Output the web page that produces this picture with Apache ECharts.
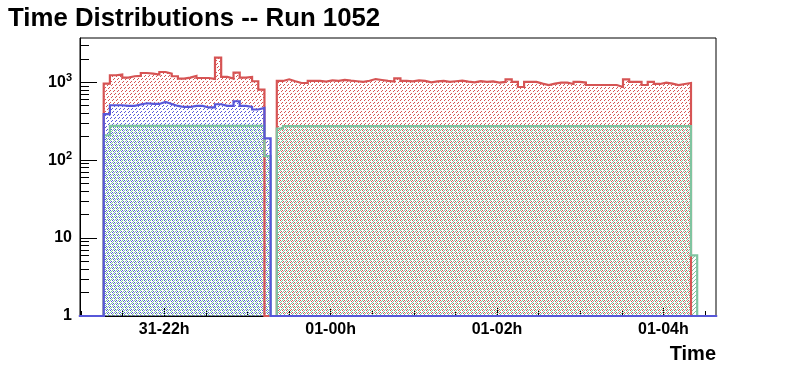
<!DOCTYPE html>
<html><head><meta charset="utf-8">
<script src="https://cdn.jsdelivr.net/npm/echarts@6/dist/echarts.min.js"></script>
<style>html,body{margin:0;padding:0;background:#fff}#c{width:796px;height:372px}</style>
</head><body><div id="c"></div>
<script>
// ---- data ----
const chartTitle = 'Time Distributions -- Run 1052';
const xName = 'Time';
const xTickValues = [22, 24, 26, 28];
const xTickLabels = ['31-22h', '01-00h', '01-02h', '01-04h'];
const xMinorTicks = [21, 21.5, 22.5, 23, 23.5, 24.5, 25, 25.5, 26.5, 27, 27.5, 28.5];
const yMajorTicks = [1, 10, 100, 1000];
const yMinorTicks = [2,3,4,5,6,7,8,9,20,30,40,50,60,70,80,90,200,300,400,500,600,700,800,900,2000,3000];
const xMin = 20.988, xMax = 28.632;   // hours since 31-00h
const yMin = 1, yMax = 3700;
const binLow = 21.273;                 // first bin lower edge (hours)
const binWidth = 0.0743;               // bin width (hours)

const redCounts = [962,1230,1256,1148,1194,1205,1316,1290,1256,1355,
  1290,1194,1115,1148,1205,1135,1135,1103,2074,1170,
  1115,1330,1148,1170,1030,806,0,0,1039,1092,
  1030,979,979,1039,1039,1020,1060,1040,1075,1050,
  1030,1010,1045,1100,1070,1040,1020,1120,1045,1030,
  1060,1040,1000,1025,1040,1010,1030,1050,1020,1000,
  1035,1010,1025,990,1009,1092,1009,870,1009,1009,
  962,922,962,991,991,951,1009,991,922,922,
  922,922,922,870,1092,1009,1009,922,1009,951,
  991,962,922,951,979];
const blueCounts = [389,507,507,497,497,518,538,527,527,559,
  527,497,482,482,497,497,475,475,522,497,
  497,571,497,482,447,469,190];
const greenCounts = [209,275,275,275,275,275,275,275,275,275,
  275,275,275,275,275,275,275,275,275,275,
  275,275,275,275,275,275,113,0,255,273,
  273,273,273,273,273,273,273,273,273,273,
  273,273,273,273,273,273,273,273,273,273,
  273,273,273,273,273,273,273,273,273,273,
  273,273,273,273,273,273,273,273,273,273,
  273,273,273,273,273,273,273,273,273,273,
  273,273,273,273,273,273,273,273,273,273,
  273,273,273,273,273,6];

// ---- styles ----
const RED = '#d65454', BLUE = '#5757d9', GREEN = '#7fc4a0';
const FONT = '"Liberation Sans", Arial, Helvetica, sans-serif';

function makePattern(color, w, h, test) {
  const c = document.createElement('canvas');
  c.width = w; c.height = h;
  const ctx = c.getContext('2d');
  ctx.fillStyle = color;
  for (let y = 0; y < h; y++) for (let x = 0; x < w; x++) if (test(x, y)) ctx.fillRect(x, y, 1, 1);
  return { image: c, repeat: 'repeat' };
}
const hatch = (x, y) => (x + y) % 4 === 0 && y % 3 !== 2;
const redPat = makePattern(RED, 4, 12, hatch);
const bluePat = makePattern(BLUE, 4, 12, hatch);
const greenPat = makePattern(GREEN, 4, 4, (x, y) => (x + y) % 4 === 2);

function stepPoints(counts) {
  const pts = [[xMin, yMin]];
  let prev = yMin;
  counts.forEach((c, i) => {
    const v = c > 0 ? c : yMin;
    const x0 = binLow + i * binWidth;
    pts.push([x0, prev]);
    pts.push([x0, v]);
    prev = v;
  });
  const xe = binLow + counts.length * binWidth;
  pts.push([xe, prev]); pts.push([xe, yMin]); pts.push([xMax, yMin]);
  return pts;
}
function histSeries(counts, color, pat) {
  return {
    type: 'line', data: stepPoints(counts), showSymbol: false, symbol: 'none',
    clip: false, silent: true, animation: false,
    lineStyle: { color: color, width: 2.2, join: 'miter', cap: 'square' },
    areaStyle: { color: pat, opacity: 1, origin: 'start' }
  };
}

const chart = echarts.init(document.getElementById('c'), null, { renderer: 'canvas' });
chart.setOption({
  animation: false,
  backgroundColor: '#fff',
  title: [
    { text: chartTitle, left: 8, top: 6, padding: 0,
      textStyle: { fontSize: 25.8, fontWeight: 'bold', fontFamily: FONT, color: '#000' } },
    { text: xName, right: 80, top: 344, padding: 0,
      textStyle: { fontSize: 20, fontWeight: 'bold', fontFamily: FONT, color: '#000' } }
  ],
  grid: { left: 80, right: 80, top: 38, bottom: 56, show: true, borderColor: '#000', borderWidth: 1,
          backgroundColor: 'transparent', outerBoundsMode: 'none' },
  xAxis: [
    { type: 'value', min: xMin, max: xMax, position: 'bottom',
      axisLine: { show: true, lineStyle: { color: '#000', width: 1 } },
      splitLine: { show: false },
      axisTick: { show: true, inside: true, length: 8, customValues: xTickValues, lineStyle: { color: '#000' } },
      axisLabel: { customValues: xTickValues, margin: 6, fontSize: 16, fontWeight: 'bold', fontFamily: FONT, color: '#000',
        formatter: v => { const i = xTickValues.findIndex(t => Math.abs(t - v) < 1e-6); return i >= 0 ? xTickLabels[i] : ''; } } },
    { type: 'value', min: xMin, max: xMax, position: 'bottom',
      axisLine: { show: false }, splitLine: { show: false }, axisLabel: { show: false },
      axisTick: { show: true, inside: true, length: 5, customValues: xMinorTicks, lineStyle: { color: '#000' } } }
  ],
  yAxis: [
    { type: 'log', logBase: 10, min: yMin, max: yMax,
      axisLine: { show: true, lineStyle: { color: '#000', width: 1 } },
      splitLine: { show: false },
      axisTick: { show: true, inside: true, length: 17, lineStyle: { color: '#000' } },
      axisLabel: { margin: 8, color: '#000', showMaxLabel: false,
        formatter: v => {
          if (!yMajorTicks.some(t => Math.abs(t - v) < 1e-6 * t)) return '';
          const e = Math.round(Math.log10(v));
          if (e === 0) return '{b|1}';
          if (e === 1) return '{b|10}';
          return '{b|10}{s|' + e + '}';
        },
        rich: {
          b: { fontSize: 16, fontWeight: 'bold', fontFamily: FONT, color: '#000' },
          s: { fontSize: 11, fontWeight: 'bold', fontFamily: FONT, color: '#000', verticalAlign: 'bottom', padding: [0, 0, 9, 0] }
        } } },
    { type: 'value', min: 0, max: Math.log10(yMax), position: 'left',
      axisLine: { show: false }, splitLine: { show: false }, axisLabel: { show: false },
      axisTick: { show: true, inside: true, length: 9, customValues: yMinorTicks.map(v => Math.log10(v)), lineStyle: { color: '#000' } } }
  ],
  series: [
    histSeries(redCounts, RED, redPat),
    histSeries(greenCounts, GREEN, greenPat),
    histSeries(blueCounts, BLUE, bluePat)
  ]
});
</script></body></html>
